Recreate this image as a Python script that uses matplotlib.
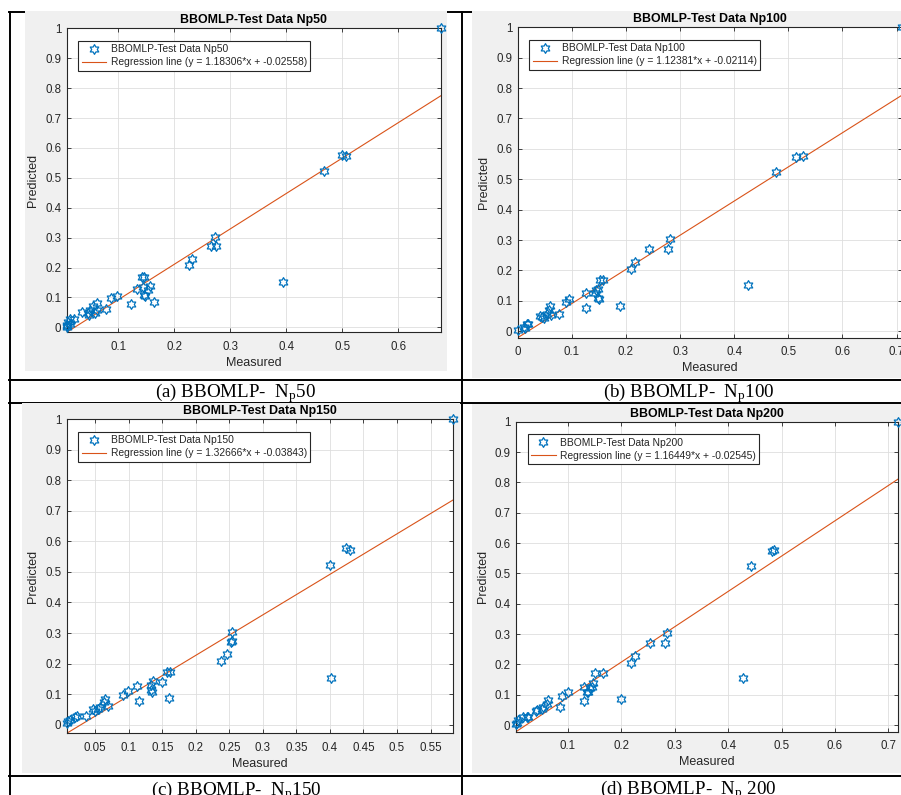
import numpy as np
import matplotlib
matplotlib.use("Agg")
import matplotlib.pyplot as plt
from matplotlib.path import Path
from matplotlib.lines import Line2D
from matplotlib.patches import Rectangle
from matplotlib.ticker import MultipleLocator, FuncFormatter

plt.rcParams["font.family"] = ["Liberation Sans", "DejaVu Sans"]
plt.rcParams["mathtext.fontset"] = "custom"
plt.rcParams["mathtext.rm"] = "Liberation Serif"
plt.rcParams["mathtext.it"] = "Liberation Serif:italic"

# ---- data ----
meas_50 = [0.676, 0.499, 0.506, 0.467, 0.273, 0.266, 0.274, 0.231, 0.226, 0.395,
           0.142, 0.146, 0.156, 0.145, 0.153, 0.133, 0.146, 0.148, 0.164, 0.122,
           0.097, 0.087, 0.0775, 0.0625, 0.0555, 0.0625, 0.050, 0.058, 0.036, 0.045,
           0.048, 0.021, 0.0137, 0.011, 0.014, 0.0078, 0.009, 0.0085]
pred_50 = [1.0, 0.576, 0.573, 0.524, 0.301, 0.272, 0.272, 0.228, 0.207, 0.152,
           0.170, 0.170, 0.140, 0.135, 0.125, 0.127, 0.108, 0.104, 0.085, 0.077,
           0.105, 0.097, 0.060, 0.083, 0.071, 0.058, 0.058, 0.047, 0.050, 0.047,
           0.041, 0.027, 0.027, 0.019, 0.013, 0.0085, 0.005, 0.003]

meas_100 = [0.71, 0.515, 0.527, 0.478, 0.281, 0.277, 0.242, 0.217, 0.210, 0.425,
            0.152, 0.158, 0.144, 0.148, 0.143, 0.126, 0.149, 0.150, 0.189, 0.126,
            0.095, 0.0895, 0.0765, 0.059, 0.058, 0.061, 0.055, 0.0456, 0.041, 0.049,
            0.019, 0.017, 0.012, 0.013, 0.0]
pred_100 = [1.0, 0.574, 0.577, 0.525, 0.302, 0.272, 0.272, 0.228, 0.206, 0.151,
            0.170, 0.170, 0.137, 0.140, 0.125, 0.126, 0.108, 0.105, 0.083, 0.075,
            0.105, 0.096, 0.058, 0.082, 0.069, 0.053, 0.058, 0.047, 0.049, 0.043,
            0.025, 0.025, 0.015, 0.011, 0.003]

meas_150 = [0.583, 0.424, 0.430, 0.400, 0.254, 0.254, 0.253, 0.247, 0.238, 0.402,
            0.157, 0.162, 0.149, 0.136, 0.133, 0.113, 0.133, 0.134, 0.160, 0.116,
            0.0988, 0.091, 0.064, 0.063, 0.0685, 0.057, 0.054, 0.047, 0.049, 0.036,
            0.0228, 0.020, 0.013, 0.0096, 0.0075]
pred_150 = [1.0, 0.577, 0.573, 0.524, 0.303, 0.273, 0.271, 0.230, 0.209, 0.154,
            0.172, 0.172, 0.138, 0.143, 0.129, 0.128, 0.112, 0.107, 0.086, 0.078,
            0.109, 0.098, 0.085, 0.074, 0.061, 0.058, 0.050, 0.050, 0.045, 0.027,
            0.028, 0.025, 0.016, 0.011, 0.005]

meas_200 = [0.7186, 0.4817, 0.486, 0.443, 0.2857, 0.281, 0.254, 0.226, 0.218, 0.4286,
            0.1516, 0.1653, 0.147, 0.145, 0.142, 0.1304, 0.1355, 0.1386, 0.199, 0.131,
            0.0998, 0.0887, 0.0855, 0.0637, 0.061, 0.0544, 0.0513, 0.0406, 0.0418, 0.0262,
            0.0232, 0.0157, 0.0076, 0.003, 0.004]
pred_200 = [1.0, 0.574, 0.577, 0.525, 0.302, 0.272, 0.272, 0.228, 0.206, 0.154,
            0.170, 0.170, 0.140, 0.125, 0.121, 0.126, 0.108, 0.110, 0.085, 0.078,
            0.108, 0.097, 0.061, 0.083, 0.069, 0.058, 0.053, 0.047, 0.050, 0.027,
            0.025, 0.025, 0.016, 0.005, 0.008]

slopes = [1.18306, 1.12381, 1.32666, 1.16449]
intercepts = [-0.02558, -0.02114, -0.03843, -0.02545]
np_names = ["Np50", "Np100", "Np150", "Np200"]
captions = [r"(a) BBOMLP-  N$_{\mathrm{p}}$50", r"(b) BBOMLP-  N$_{\mathrm{p}}$100",
            r"(c) BBOMLP-  N$_{\mathrm{p}}$150", r"(d) BBOMLP-  N$_{\mathrm{p}}$ 200"]
x_steps = [0.1, 0.1, 0.05, 0.1]

W, H = 901, 795
fig = plt.figure(figsize=(W / 100, H / 100), dpi=100)
fig.patch.set_facecolor("white")


def fx(px):
    return px / W


def fy(py):
    return 1 - py / H


# table lines of the document page
tbl = dict(color="black", lw=1.4, zorder=-3)
for y in [12, 379.5, 402.5, 775.5]:
    fig.add_artist(Line2D([fx(9), fx(901)], [fy(y), fy(y)], **tbl))
for x in [9.5, 461.5]:
    fig.add_artist(Line2D([fx(x), fx(x)], [fy(12), fy(795)], **tbl))

# gray matlab figure backgrounds (left, top, right, bottom in px)
gray_boxes = [(25, 11, 447, 371), (472, 11, 901, 378),
              (21.5, 403, 460, 773), (472, 404, 901, 773)]
for l, t, r, b in gray_boxes:
    fig.add_artist(Rectangle((fx(l), fy(b)), fx(r - l), (b - t) / H,
                             facecolor="#f0f0f0", edgecolor="none", zorder=-2))

# axes boxes (left, top, right, bottom in px)
ax_boxes = [(66.7, 28.3, 440.7, 332.3), (517.7, 27.3, 902, 337.7),
            (66.7, 419.3, 452.7, 733.3), (516, 421.7, 898.3, 731.7)]

caption_pos = [(236, 397.5), (689, 397.5), (236.5, 795.5), (688, 794)]

# matlab hexagram marker
hexagram = Path.unit_regular_star(6, 0.577)

blue = (0, 0.447, 0.741)
orange = (0.85, 0.325, 0.098)
dark = (0.15, 0.15, 0.15)

datasets = [(meas_50, pred_50), (meas_100, pred_100),
            (meas_150, pred_150), (meas_200, pred_200)]

for i, (xs, ys) in enumerate(datasets):
    l, t, r, b = ax_boxes[i]
    ax = fig.add_axes([fx(l), fy(b), fx(r - l), (b - t) / H])
    xs = np.array(xs)
    ys = np.array(ys)
    x0, x1 = xs.min(), xs.max()
    lx = np.array([x0, x1])
    ly = slopes[i] * lx + intercepts[i]

    ax.plot(xs, ys, ls="none", marker=hexagram, ms=7, mfc="none", mec=blue,
            mew=0.9, clip_on=False, zorder=3,
            label="BBOMLP-Test Data " + np_names[i])
    ax.plot(lx, ly, color=orange, lw=0.8, zorder=2,
            label="Regression line (y = %.5f*x + %.5f)" % (slopes[i], intercepts[i]))

    ax.set_xlim(x0, x1)
    ax.set_ylim(min(ly.min(), ys.min()), max(ly.max(), ys.max()))
    ax.xaxis.set_major_locator(MultipleLocator(x_steps[i]))
    ax.yaxis.set_major_locator(MultipleLocator(0.1))
    fmt = FuncFormatter(lambda v, p: "%g" % round(v, 3))
    ax.xaxis.set_major_formatter(fmt)
    ax.yaxis.set_major_formatter(fmt)

    ax.grid(True, color=(0.87, 0.87, 0.87), lw=0.6)
    ax.set_axisbelow(True)
    for s in ax.spines.values():
        s.set_color(dark)
        s.set_linewidth(0.8)
    ax.tick_params(direction="in", top=True, right=True, length=3, width=0.6,
                   color=dark, labelcolor=dark, labelsize=8.3)
    ax.tick_params(axis="x", pad=6)
    ax.tick_params(axis="y", pad=4)

    ax.set_title("BBOMLP-Test Data " + np_names[i], fontsize=8.9,
                 fontweight="bold", pad=3.5, color="black")
    ax.set_xlabel("Measured", fontsize=9, color=dark, labelpad=3)
    ax.set_ylabel("Predicted", fontsize=9, color=dark, labelpad=4)

    wpx = r - l
    hpx = b - t
    leg = ax.legend(loc="upper left", bbox_to_anchor=(11.5 / wpx, 1 - 12.5 / hpx),
                    borderaxespad=0, fontsize=7.4, numpoints=1, fancybox=False,
                    framealpha=1, edgecolor=dark, borderpad=0.35,
                    labelspacing=0.3, handlelength=2.4, handletextpad=0.4)
    leg.get_frame().set_linewidth(0.8)
    for txt in leg.get_texts():
        txt.set_color(dark)

    cx, cy = caption_pos[i]
    fig.text(fx(cx), fy(cy), captions[i], ha="center", va="baseline",
             fontsize=13.7, family="Liberation Serif")

fig.savefig("out.png", dpi=100)
